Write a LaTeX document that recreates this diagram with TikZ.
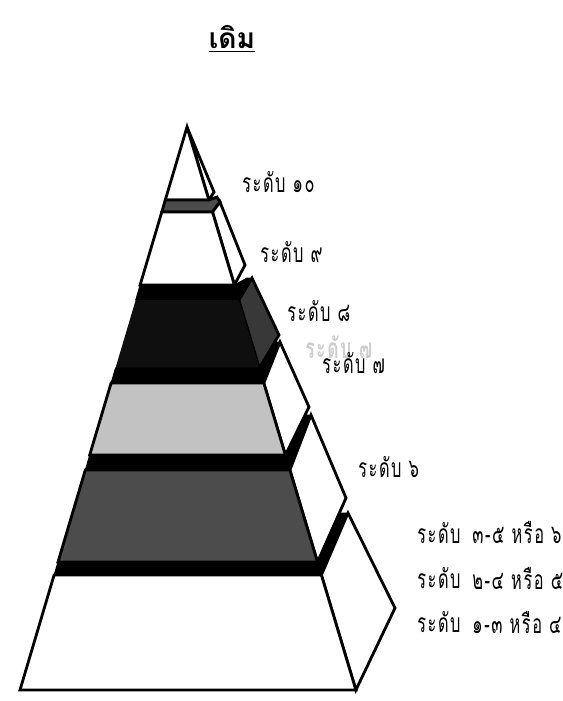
\documentclass[tikz,border=0pt]{standalone}
\usepackage{fontspec}
\newfontfamily\thaifont[Script=Thai]{Loma}
\newfontfamily\lvlfont[Script=Thai, FakeStretch=0.62, LetterSpace=6]{Loma}
\definecolor{lightstep}{gray}{0.76}
\definecolor{darkstep}{gray}{0.30}
\definecolor{blackstep}{gray}{0.06}
\definecolor{sidegray}{gray}{0.22}
\definecolor{ghostgray}{gray}{0.80}

\begin{document}
\begin{tikzpicture}[x=0.02cm, y=-0.02cm,
    face/.style={draw=black, line width=1.6pt},
    band/.style={fill=black, draw=black, line width=0.5pt},
    lvl/.style={anchor=west, inner sep=0pt, font=\lvlfont\fontsize{15}{17}\selectfont}]
  \useasboundingbox (0,0) rectangle (563,701);
  % title
  \node[font=\thaifont\bfseries\fontsize{16}{18}\selectfont] (title) at (232,39) {\underline{เดิม}};
  % level 10: apex
  \filldraw[face, fill=white] (187,127) -- (214,192) -- (208.9,200) -- cycle;
  \filldraw[face, fill=white] (187,127) -- (165.3,200) -- (208.9,200) -- cycle;
  \filldraw[face, fill=darkstep] (165.3,200) -- (208.9,200) -- (217,197) -- (220,202) -- (212.5,212) -- (161.8,212) -- cycle;
  % level 9
  \filldraw[face, fill=white] (212.5,212) -- (220,202) -- (245,265) -- (234.4,285) -- cycle;
  \filldraw[face, fill=white] (161.8,212) -- (212.5,212) -- (234.4,285) -- (140.1,285) -- cycle;
  % level 8
  \filldraw[face, fill=sidegray] (238.9,300) -- (252,278) -- (279,335) -- (259.3,368) -- cycle;
  \fill[band] (234.4,285) -- (247,278) -- (252,278) -- (238.9,300) -- cycle;
  \fill[band] (140.1,285) -- (234.4,285) -- (238.9,300) -- (135.7,300) -- cycle;
  \fill[blackstep] (135.7,300) -- (238.9,300) -- (259.3,368) -- (115.5,368) -- cycle;
  % level 7
  \filldraw[face, fill=white] (263.8,383) -- (280,342) -- (309,407) -- (285.4,455) -- cycle;
  \fill[band] (259.3,368) -- (275,342) -- (280,342) -- (263.8,383) -- cycle;
  \fill[band] (115.5,368) -- (259.3,368) -- (263.8,383) -- (111.1,383) -- cycle;
  \filldraw[face, fill=lightstep] (111.1,383) -- (263.8,383) -- (285.4,455) -- (89.7,455) -- cycle;
  % level 6
  \filldraw[face, fill=white] (289.9,470) -- (311,415) -- (346,498) -- (317.5,562) -- cycle;
  \fill[band] (285.4,455) -- (305,415) -- (311,415) -- (289.9,470) -- cycle;
  \fill[band] (89.7,455) -- (285.4,455) -- (289.9,470) -- (85.3,470) -- cycle;
  \filldraw[face, fill=darkstep] (85.3,470) -- (289.9,470) -- (317.5,562) -- (58,562) -- cycle;
  % levels 1-5
  \filldraw[face, fill=white] (321.4,575) -- (348,513) -- (395,608) -- (355.9,690) -- cycle;
  \fill[band] (317.5,562) -- (340,513) -- (348,513) -- (321.4,575) -- cycle;
  \fill[band] (58,562) -- (317.5,562) -- (321.4,575) -- (54.1,575) -- cycle;
  \filldraw[face, fill=white] (54.1,575) -- (321.4,575) -- (355.9,690) -- (20,690) -- cycle;
  % labels
  \node[lvl] (lten) at (242,182) {ระดับ ๑๐};
  \node[lvl] (lnine) at (260,252) {ระดับ ๙};
  \node[lvl] (leight) at (287,311) {ระดับ ๘};
  \node[lvl, text=ghostgray, font=\lvlfont\bfseries\fontsize{16}{18}\selectfont] (lghost) at (305,347) {ระดับ ๗};
  \node[lvl] (lseven) at (322,363) {ระดับ ๗};
  \node[lvl] (lsix) at (358,467) {ระดับ ๖};
  \node[lvl] (lrowa) at (417,533) {ระดับ};
  \node[lvl] (lrowb) at (417,578) {ระดับ};
  \node[lvl] (lrowc) at (417,622) {ระดับ};
  \node[lvl] (lrangea) at (472,533) {๓-๕ หรือ ๖};
  \node[lvl] (lrangeb) at (472,578) {๒-๔ หรือ ๕};
  \node[lvl] (lrangec) at (472,622) {๑-๓ หรือ ๔};
\end{tikzpicture}
\end{document}
